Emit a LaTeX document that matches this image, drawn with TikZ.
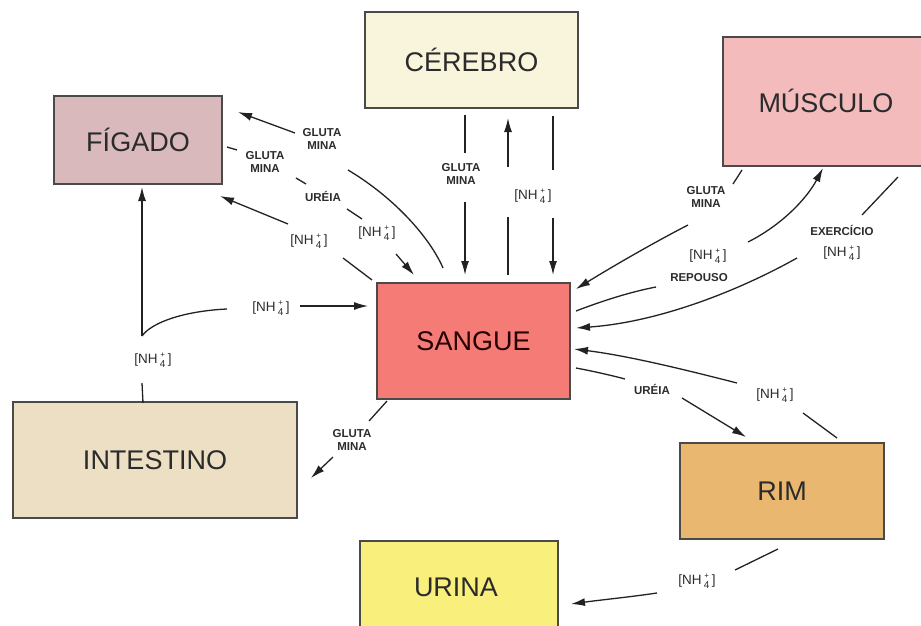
\documentclass[tikz,border=0pt]{standalone}
\usepackage{fontspec}
\setmainfont{Liberation Sans}
\usetikzlibrary{arrows.meta}
\definecolor{cerc}{HTML}{F9F4DC}
\definecolor{figc}{HTML}{D9B9BC}
\definecolor{musc}{HTML}{F4BBBD}
\definecolor{sanc}{HTML}{F57B76}
\definecolor{intc}{HTML}{ECDFC4}
\definecolor{rimc}{HTML}{E9B770}
\definecolor{uric}{HTML}{F8EF7C}
\definecolor{bordc}{HTML}{4A4A4A}
\definecolor{txtc}{HTML}{2B2B2B}
\definecolor{lnc}{HTML}{222222}
\newcommand{\nhq}{[NH\,\raisebox{-0.5ex}{\shortstack[c]{\fontsize{8}{5}\selectfont +\\\fontsize{10}{9}\selectfont 4}}\,]}
\begin{document}
\begin{tikzpicture}[x=1pt,y=-1pt,
  box/.style={draw=bordc, line width=1.5pt, inner sep=0pt, text=txtc,
    font=\fontsize{27}{30}\selectfont},
  bigtxt/.style={text=txtc, font=\fontsize{27}{30}\selectfont, inner sep=0pt},
  sl/.style={font=\bfseries\fontsize{11.5}{13}\selectfont, align=center, inner sep=1pt, text=txtc},
  nl/.style={font=\fontsize{13.5}{14}\selectfont, inner sep=1pt, text=txtc},
  ln/.style={line width=1.3pt, draw=lnc},
  ar/.style={ln, -{Latex[length=14pt,width=8pt]}}
]
\useasboundingbox (0,0) rectangle (921,626);

% boxes
\node[box, fill=cerc, minimum width=213pt, minimum height=96pt] (cer) at (471.5,60) {CÉREBRO};
\node[box, fill=figc, minimum width=168pt, minimum height=88pt] (fig) at (138,140) {FÍGADO};
\node[box, fill=musc, minimum width=220pt, minimum height=129pt] (mus) at (833,101.5) {};
\node[bigtxt] (musl) at (826,101) {MÚSCULO};
\node[box, fill=sanc, minimum width=193pt, minimum height=116pt, text=black!75!red!60!black] (san) at (473.5,341) {SANGUE};
\node[box, fill=intc, minimum width=284pt, minimum height=116pt] (int) at (155,460) {INTESTINO};
\node[box, fill=rimc, minimum width=204pt, minimum height=96pt] (rim) at (782,491) {RIM};
\node[box, fill=uric, minimum width=198pt, minimum height=98pt] (uri) at (459,590) {};
\node[bigtxt] (uril) at (456,587) {URINA};

% P1: sangue -> figado (glutamina)
\coordinate (a1) at (443,268);
\coordinate (a1m) at (348,170);
\node[sl] (g1) at (322,139) {GLUTA\\MINA};
\coordinate (a1n) at (295,133);
\coordinate (a1e) at (238,112);
\draw[ln] (a1) .. controls (430,238) and (395,198) .. (a1m);
\draw[ar] (a1n) -- (a1e);

% P2: figado -> sangue (glutamina, ureia, nh4)
\coordinate (b1) at (227,147);
\coordinate (b1m) at (237,150);
\node[sl] (g2) at (265,162) {GLUTA\\MINA};
\coordinate (b2) at (296,178);
\coordinate (b2m) at (306,184);
\node[sl] (u1) at (323,196) {URÉIA};
\coordinate (b3) at (347,209);
\coordinate (b3m) at (362,219);
\node[nl] (n1) at (377,233) {\nhq};
\coordinate (b4) at (396,254);
\coordinate (b4e) at (414,275);
\draw[ln] (b1) -- (b1m);
\draw[ln] (b2) -- (b2m);
\draw[ln] (b3) -- (b3m);
\draw[ar] (b4) -- (b4e);

% P3: sangue -> figado (nh4)
\coordinate (c1) at (372,280);
\coordinate (c1m) at (343,258);
\node[nl] (n2) at (309,241) {\nhq};
\coordinate (c2) at (288,224);
\coordinate (c2e) at (220,196);
\draw[ln] (c1) -- (c1m);
\draw[ar] (c2) -- (c2e);

% P4: cerebro -> sangue (glutamina)
\coordinate (d1) at (465,115);
\coordinate (d1m) at (465,153);
\node[sl] (g3) at (461,174) {GLUTA\\MINA};
\coordinate (d2) at (465,202);
\coordinate (d2e) at (465,275);
\draw[ln] (d1) -- (d1m);
\draw[ar] (d2) -- (d2e);

% P5/P6: nh4 up and down
\node[nl] (n3) at (533,196) {\nhq};
\coordinate (e1) at (508,275);
\coordinate (e1m) at (508,217);
\coordinate (e2) at (508,167);
\coordinate (e2e) at (508,118);
\draw[ln] (e1) -- (e1m);
\draw[ar] (e2) -- (e2e);
\coordinate (f1) at (553,116);
\coordinate (f1m) at (553,170);
\coordinate (f2) at (553,218);
\coordinate (f2e) at (553,275);
\draw[ln] (f1) -- (f1m);
\draw[ar] (f2) -- (f2e);

% P7: musculo -> sangue (glutamina)
\coordinate (h1) at (742,170);
\coordinate (h1m) at (733,184);
\node[sl] (g4) at (706,197) {GLUTA\\MINA};
\coordinate (h2) at (688,225);
\coordinate (h2e) at (576,289);
\draw[ln] (h1) -- (h1m);
\draw[ar] (h2) .. controls (655,242) and (615,265) .. (h2e);

% P8: sangue -> musculo (repouso)
\coordinate (i1) at (576,311);
\coordinate (i1m) at (656,287);
\node[nl] (n4) at (708,256) {\nhq};
\node[sl] (rp) at (699,278) {REPOUSO};
\coordinate (i2) at (748,242);
\coordinate (i2e) at (823,168);
\draw[ln] (i1) .. controls (602,301) and (630,292) .. (i1m);
\draw[ar] (i2) .. controls (780,226) and (806,200) .. (i2e);

% P9: musculo -> sangue (exercicio)
\coordinate (j1) at (898,177);
\coordinate (j1m) at (862,215);
\node[sl] (ex) at (842,230) {EXERCÍCIO};
\node[nl] (n5) at (842,253) {\nhq};
\coordinate (j2) at (797,258);
\coordinate (j2e) at (576,328);
\draw[ln] (j1) -- (j1m);
\draw[ar] (j2) .. controls (740,290) and (660,322) .. (j2e);

% P10: rim -> sangue (nh4)
\coordinate (k1) at (837,438);
\coordinate (k1m) at (803,413);
\node[nl] (n6) at (775,395) {\nhq};
\coordinate (k2) at (737,383);
\coordinate (k2e) at (574,349);
\draw[ln] (k1) -- (k1m);
\draw[ar] (k2) .. controls (690,371) and (630,356) .. (k2e);

% P11: sangue -> rim (ureia)
\coordinate (l1) at (576,368);
\coordinate (l1m) at (625,379);
\node[sl] (u2) at (652,389) {URÉIA};
\coordinate (l2) at (682,398);
\coordinate (l2e) at (746,437);
\draw[ln] (l1) .. controls (592,371) and (610,375) .. (l1m);
\draw[ar] (l2) -- (l2e);

% P12: sangue -> intestino (glutamina)
\coordinate (m1) at (387,401);
\coordinate (m1m) at (369,421);
\node[sl] (g5) at (352,440) {GLUTA\\MINA};
\coordinate (m2) at (333,457);
\coordinate (m2e) at (311,478);
\draw[ln] (m1) -- (m1m);
\draw[ar] (m2) -- (m2e);

% P13: intestino -> figado / sangue (nh4)
\coordinate (o1) at (143,403);
\coordinate (o1m) at (142,383);
\node[nl] (n7) at (153,360) {\nhq};
\coordinate (o2) at (142,336);
\coordinate (o2e) at (142,187);
\coordinate (o3) at (227,309);
\node[nl] (n8) at (271,308) {\nhq};
\coordinate (o4) at (300,306);
\coordinate (o4e) at (368,306);
\draw[ln] (o1) -- (o1m);
\draw[ar] (o2) -- (o2e);
\draw[ln] (o2) .. controls (152,322) and (185,311) .. (o3);
\draw[ar] (o4) -- (o4e);

% P14: rim -> urina (nh4)
\coordinate (q1) at (778,549);
\coordinate (q1m) at (735,570);
\node[nl] (n9) at (697,581) {\nhq};
\coordinate (q2) at (657,593);
\coordinate (q2e) at (571,604);
\draw[ln] (q1) -- (q1m);
\draw[ar] (q2) .. controls (630,597) and (600,600) .. (q2e);
\end{tikzpicture}
\end{document}
